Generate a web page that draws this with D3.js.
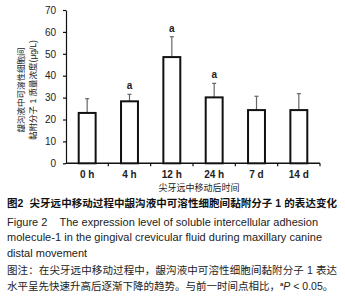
<!DOCTYPE html>
<html>
<head>
<meta charset="utf-8">
<script src="https://cdn.jsdelivr.net/npm/d3@7"></script>
<style>
  body { margin: 0; background: #fff; }
  svg { display: block; }
  text { font-family: "Liberation Sans", Arial, "Noto Sans CJK SC", sans-serif; }
</style>
</head>
<body>
<svg id="chart" width="345" height="300"></svg>
<script>
// data
let times = ["0 h", "4 h", "12 h", "24 h", "7 d", "14 d"]
let means = [23, 28.3, 48.5, 30.1, 24.3, 24.3]
let sds = [6.5, 3.2, 9.3, 6.4, 6.3, 7.5]
let marks = ["", "a", "a", "a", "", ""]
let yTicks = [0, 10, 20, 30, 40, 50, 60, 70]

let svg = d3.select("#chart")

let x = d3.scaleBand()
  .domain(times)
  .range([66, 320])
  .padding(0)

let y = d3.scaleLinear()
  .domain([0, 70])
  .range([163.3, 10])

let bw = x.bandwidth() * 0.4

// y axis
let yAxis = svg.append("g")
  .attr("transform", "translate(66,0)")
  .call(d3.axisLeft(y).tickValues(yTicks).tickSize(3).tickSizeOuter(0).tickPadding(7))
yAxis.select(".domain").attr("stroke", "#111").attr("stroke-width", 1.2)
yAxis.selectAll(".tick line").attr("stroke", "#111").attr("stroke-width", 1.2)
yAxis.selectAll("text")
  .attr("fill", "#222")
  .style("font-family", "'Liberation Sans', Arial, sans-serif")
  .style("font-size", "10px")

// x axis: line with ticks between groups
svg.append("line")
  .attr("x1", 66).attr("x2", 320)
  .attr("y1", y(0)).attr("y2", y(0))
  .attr("stroke", "#111").attr("stroke-width", 1.4)

svg.selectAll(".xtick")
  .data(times.slice(1).concat(["end"]))
  .join("line")
  .attr("class", "xtick")
  .attr("x1", (d, i) => i < 5 ? x(d) : 320)
  .attr("x2", (d, i) => i < 5 ? x(d) : 320)
  .attr("y1", y(0)).attr("y2", y(0) + 3)
  .attr("stroke", "#111").attr("stroke-width", 1.2)

svg.selectAll(".xlab")
  .data(times)
  .join("text")
  .attr("class", "xlab")
  .attr("x", d => x(d) + x.bandwidth() / 2)
  .attr("y", 178)
  .attr("text-anchor", "middle")
  .attr("fill", "#222")
  .style("font-size", "10px")
  .style("font-weight", "bold")
  .text(d => d)

// error bars (upper only)
let eb = svg.append("g")
eb.selectAll(".err")
  .data(times)
  .join("line")
  .attr("x1", d => x(d) + x.bandwidth() / 2)
  .attr("x2", d => x(d) + x.bandwidth() / 2)
  .attr("y1", (d, i) => y(means[i]))
  .attr("y2", (d, i) => y(means[i] + sds[i]))
  .attr("stroke", "#666").attr("stroke-width", 1.2)
eb.selectAll(".cap")
  .data(times)
  .join("line")
  .attr("x1", d => x(d) + x.bandwidth() / 2 - 2)
  .attr("x2", d => x(d) + x.bandwidth() / 2 + 2)
  .attr("y1", (d, i) => y(means[i] + sds[i]))
  .attr("y2", (d, i) => y(means[i] + sds[i]))
  .attr("stroke", "#666").attr("stroke-width", 1.2)

// bars
svg.selectAll(".bar")
  .data(times)
  .join("rect")
  .attr("class", "bar")
  .attr("x", d => x(d) + (x.bandwidth() - bw) / 2)
  .attr("width", bw)
  .attr("y", (d, i) => y(means[i]))
  .attr("height", (d, i) => y(0) - y(means[i]))
  .attr("fill", "#fff")
  .attr("stroke", "#111")
  .attr("stroke-width", 2)

// significance marks
svg.selectAll(".sig")
  .data(times)
  .join("text")
  .attr("class", "sig")
  .attr("x", d => x(d) + x.bandwidth() / 2)
  .attr("y", (d, i) => y(means[i] + sds[i]) - 5)
  .attr("text-anchor", "middle")
  .attr("fill", "#222")
  .style("font-size", "10px")
  .style("font-weight", "bold")
  .text((d, i) => marks[i])

// y title, two lines
svg.append("text")
  .attr("transform", "translate(21,90) rotate(-90)")
  .attr("text-anchor", "middle")
  .attr("dy", "0.35em")
  .attr("fill", "#222")
  .style("font-size", "8.5px")
  .text("龈沟液中可溶性细胞间")
svg.append("text")
  .attr("transform", "translate(33,90) rotate(-90)")
  .attr("text-anchor", "middle")
  .attr("dy", "0.35em")
  .attr("fill", "#222")
  .style("font-size", "8.5px")
  .text("黏附分子 1 质量浓度(μg/L)")

// x title
svg.append("text")
  .attr("x", 199).attr("y", 191)
  .attr("text-anchor", "middle")
  .attr("fill", "#222")
  .style("font-size", "9px")
  .text("尖牙远中移动后时间")

// caption
let cap = svg.append("g").attr("fill", "#222")
cap.append("text")
  .attr("x", 7).attr("y", 207)
  .attr("fill", "#111")
  .attr("textLength", 330).attr("lengthAdjust", "spacing")
  .style("font-size", "10.5px").style("font-weight", "bold")
  .style("white-space", "pre")
  .text("图2  尖牙远中移动过程中龈沟液中可溶性细胞间黏附分子 1 的表达变化")

let eng = [
  ["Figure 2    The expression level of soluble intercellular adhesion", 225.5, 311],
  ["molecule-1 in the gingival crevicular fluid during maxillary canine", 241, 315],
  ["distal movement", 257, null]
]
eng.forEach(e => {
  let t = cap.append("text")
    .attr("x", 7).attr("y", e[1])
    .style("font-size", "11px")
    .style("white-space", "pre")
    .text(e[0])
  if (e[2]) t.attr("textLength", e[2]).attr("lengthAdjust", "spacing")
})

cap.append("text")
  .attr("x", 7).attr("y", 273.5)
  .attr("textLength", 330).attr("lengthAdjust", "spacing")
  .style("font-size", "10.5px")
  .text("图注：在尖牙远中移动过程中，龈沟液中可溶性细胞间黏附分子 1 表达")

let last = cap.append("text")
  .attr("x", 7).attr("y", 289.5)
  .style("font-size", "10.5px")
last.append("tspan").text("水平呈先快速升高后逐渐下降的趋势。与前一时间点相比，")
last.append("tspan").attr("dy", -4).style("font-size", "6px").style("font-weight", "bold").text("a")
last.append("tspan").attr("dy", 4).style("font-style", "italic").text("P")
last.append("tspan").text(" < 0.05。")
</script>
</body>
</html>
